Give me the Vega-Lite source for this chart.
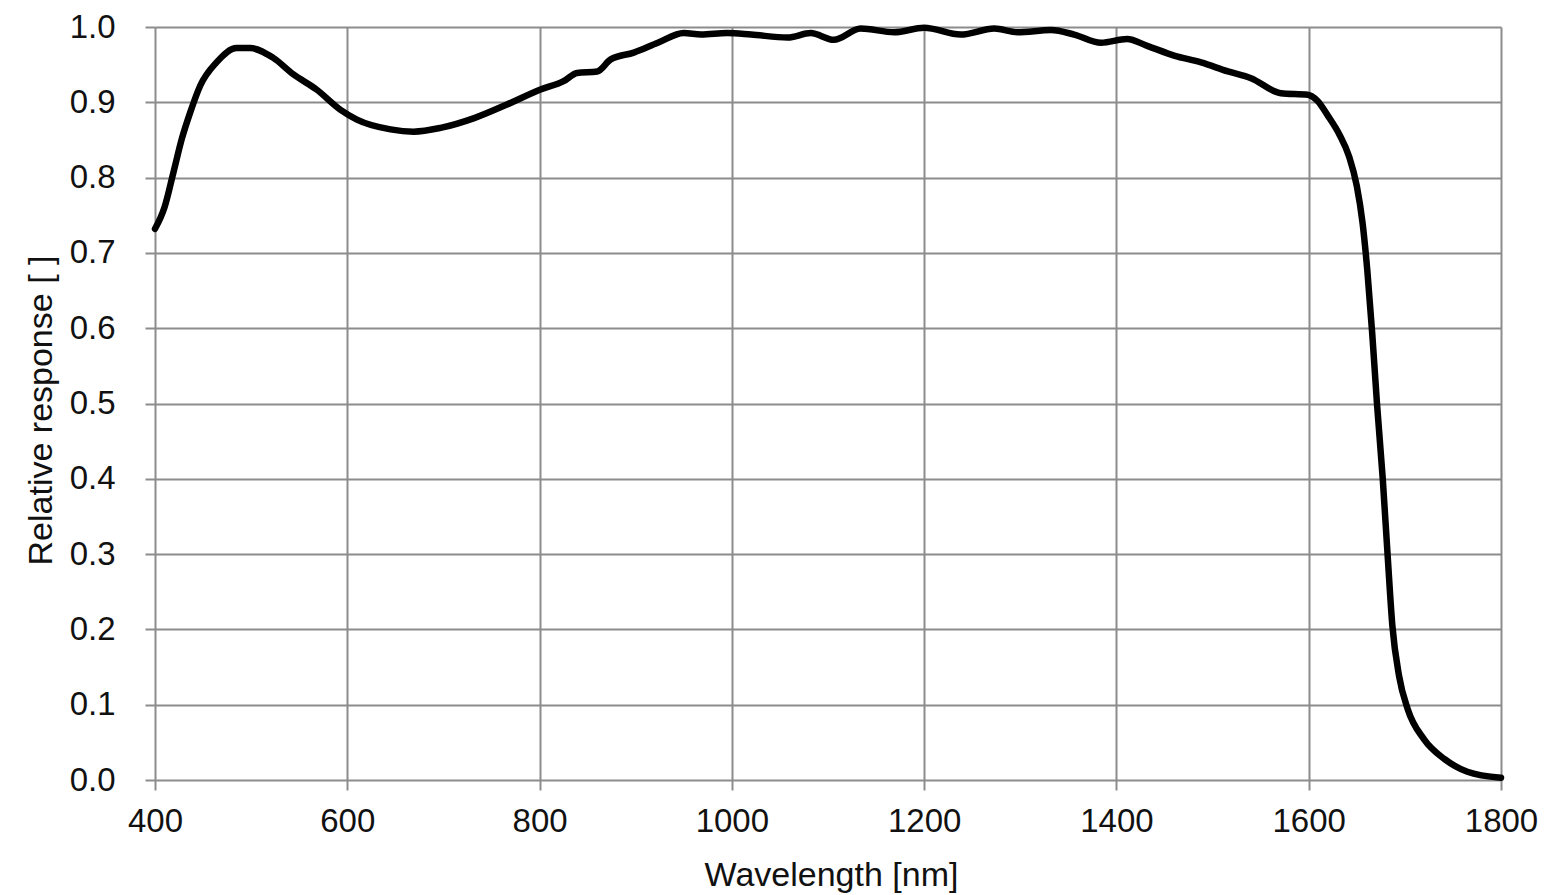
{
  "$schema": "https://vega.github.io/schema/vega-lite/v6.json",
  "width": 1346,
  "height": 753,
  "autosize": "none",
  "padding": {"left": 155, "top": 27, "right": 44, "bottom": 115},
  "background": "white",
  "config": {
    "view": {"stroke": null},
    "font": "Liberation Sans",
    "axis": {
      "grid": true,
      "gridColor": "#8c8c8c",
      "gridWidth": 2,
      "gridOpacity": 1,
      "tickColor": "#8c8c8c",
      "tickWidth": 2,
      "tickSize": 10,
      "domain": false,
      "labelFont": "Liberation Sans",
      "labelFontSize": 33,
      "labelColor": "#111111",
      "titleFont": "Liberation Sans",
      "titleFontSize": 34,
      "titleFontWeight": "normal",
      "titleColor": "#111111",
      "labelFlush": false,
      "labelOverlap": false
    }
  },
  "data": {
    "values": [
      {"wavelength": 400, "response": 0.732},
      {"wavelength": 410, "response": 0.761},
      {"wavelength": 419, "response": 0.806},
      {"wavelength": 428, "response": 0.852},
      {"wavelength": 437, "response": 0.888},
      {"wavelength": 447, "response": 0.922},
      {"wavelength": 464, "response": 0.953},
      {"wavelength": 485, "response": 0.972},
      {"wavelength": 499, "response": 0.972},
      {"wavelength": 523, "response": 0.959},
      {"wavelength": 544, "response": 0.937},
      {"wavelength": 568, "response": 0.917},
      {"wavelength": 593, "response": 0.890},
      {"wavelength": 610, "response": 0.877},
      {"wavelength": 645, "response": 0.864},
      {"wavelength": 669, "response": 0.861},
      {"wavelength": 697, "response": 0.866},
      {"wavelength": 732, "response": 0.879},
      {"wavelength": 766, "response": 0.897},
      {"wavelength": 801, "response": 0.917},
      {"wavelength": 825, "response": 0.928},
      {"wavelength": 839, "response": 0.939},
      {"wavelength": 860, "response": 0.941},
      {"wavelength": 874, "response": 0.957},
      {"wavelength": 898, "response": 0.966},
      {"wavelength": 923, "response": 0.979},
      {"wavelength": 950, "response": 0.992},
      {"wavelength": 968, "response": 0.990},
      {"wavelength": 995, "response": 0.992},
      {"wavelength": 1020, "response": 0.990},
      {"wavelength": 1058, "response": 0.986},
      {"wavelength": 1082, "response": 0.992},
      {"wavelength": 1106, "response": 0.983},
      {"wavelength": 1134, "response": 0.998},
      {"wavelength": 1169, "response": 0.993},
      {"wavelength": 1200, "response": 0.999},
      {"wavelength": 1238, "response": 0.990},
      {"wavelength": 1273, "response": 0.998},
      {"wavelength": 1297, "response": 0.993},
      {"wavelength": 1332, "response": 0.996},
      {"wavelength": 1356, "response": 0.990},
      {"wavelength": 1384, "response": 0.979},
      {"wavelength": 1411, "response": 0.984},
      {"wavelength": 1432, "response": 0.975},
      {"wavelength": 1460, "response": 0.962},
      {"wavelength": 1488, "response": 0.953},
      {"wavelength": 1516, "response": 0.941},
      {"wavelength": 1540, "response": 0.932},
      {"wavelength": 1571, "response": 0.912},
      {"wavelength": 1599, "response": 0.910},
      {"wavelength": 1609, "response": 0.902},
      {"wavelength": 1620, "response": 0.882},
      {"wavelength": 1632, "response": 0.857},
      {"wavelength": 1642, "response": 0.828},
      {"wavelength": 1650, "response": 0.789},
      {"wavelength": 1656, "response": 0.740},
      {"wavelength": 1661, "response": 0.676},
      {"wavelength": 1666, "response": 0.594},
      {"wavelength": 1671, "response": 0.500},
      {"wavelength": 1677, "response": 0.400},
      {"wavelength": 1682, "response": 0.300},
      {"wavelength": 1687, "response": 0.205},
      {"wavelength": 1694, "response": 0.138},
      {"wavelength": 1703, "response": 0.094},
      {"wavelength": 1720, "response": 0.054},
      {"wavelength": 1741, "response": 0.028},
      {"wavelength": 1765, "response": 0.011},
      {"wavelength": 1800, "response": 0.003}
    ]
  },
  "mark": {"type": "line", "color": "#000000", "strokeWidth": 6.5, "interpolate": "monotone", "strokeCap": "round", "strokeJoin": "round"},
  "encoding": {
    "x": {
      "field": "wavelength",
      "type": "quantitative",
      "scale": {"domain": [400, 1800], "nice": false, "zero": false},
      "axis": {
        "values": [400, 600, 800, 1000, 1200, 1400, 1600, 1800],
        "format": "d",
        "labelPadding": 15,
        "title": "Wavelength [nm]",
        "titleBaseline": "alphabetic",
        "titleAnchor": null,
        "titleX": 676,
        "titleY": 105
      }
    },
    "y": {
      "field": "response",
      "type": "quantitative",
      "scale": {"domain": [0, 1], "nice": false},
      "axis": {
        "values": [0, 0.1, 0.2, 0.3, 0.4, 0.5, 0.6, 0.7, 0.8, 0.9, 1.0],
        "format": ".1f",
        "labelPadding": 30,
        "title": "Relative response [ ]",
        "titleAngle": -90,
        "titleBaseline": "alphabetic",
        "titleAlign": "center",
        "titleX": -104,
        "titleY": 383
      }
    }
  }
}
